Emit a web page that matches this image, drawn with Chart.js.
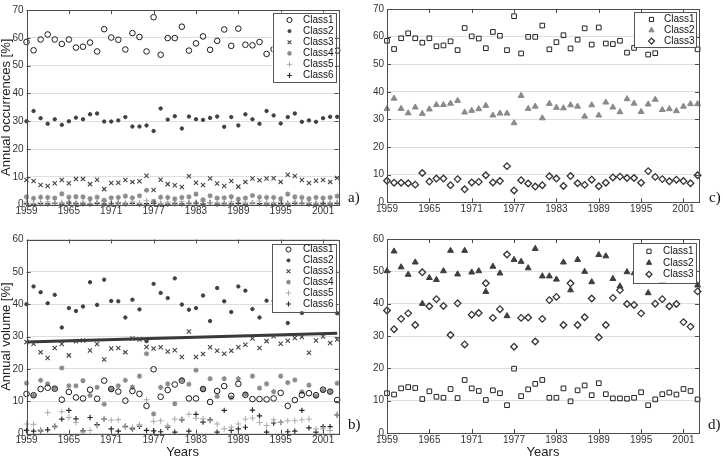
<!DOCTYPE html>
<html><head><meta charset="utf-8">
<script src="https://cdn.jsdelivr.net/npm/chart.js@4/dist/chart.umd.min.js"></script>
<style>
html,body{margin:0;padding:0;background:#fff;width:723px;height:462px;overflow:hidden;position:relative;}
canvas{position:absolute;}
.lab{position:absolute;font-family:"Liberation Serif","DejaVu Serif",serif;font-size:15px;line-height:15px;color:#111;}
</style></head><body>
<canvas id="ca" width="360" height="230" style="left:0;top:0"></canvas>
<canvas id="cc" width="362" height="230" style="left:361px;top:0"></canvas>
<canvas id="cb" width="360" height="232" style="left:0;top:230px"></canvas>
<canvas id="cd" width="362" height="232" style="left:361px;top:230px"></canvas>
<div class="lab" style="left:348px;top:190px">a)</div>
<div class="lab" style="left:709px;top:190px">c)</div>
<div class="lab" style="left:348px;top:417px">b)</div>
<div class="lab" style="left:708px;top:417px">d)</div>
<script>
// ---------- DATA ----------
const years = [1959,1960,1961,1962,1963,1964,1965,1966,1967,1968,1969,1970,1971,1972,1973,1974,1975,1976,1977,1978,1979,1980,1981,1982,1983,1984,1985,1986,1987,1988,1989,1990,1991,1992,1993,1994,1995,1996,1997,1998,1999,2000,2001,2002,2003];
const yearTicks = [1959,1965,1971,1977,1983,1989,1995,2001];
const names6 = ['Class1','Class2','Class3','Class4','Class5','Class6'];
const names3 = ['Class1','Class2','Class3'];

// a) annual occurrences, six classes
const occClass1 = [58.5,55.5,59.4,61.2,59.4,57.8,59.4,56.5,56.8,58.3,55.1,63.1,60.1,59.3,55.8,61.7,60.3,55.1,67.4,53.9,59.9,59.9,64.0,55.4,58.0,60.5,55.7,58.9,63.0,57.1,63.3,57.5,57.3,58.5,54.2,55.9,60.1,53.5,54.0,58.1,58.6,58.7,57.6,57.5,55.4];
const occClass2 = [30.0,33.7,31.1,29.1,30.7,28.7,30.0,31.3,30.7,32.5,32.8,29.9,29.9,30.3,31.5,28.1,28.1,28.5,26.5,34.6,30.6,31.8,27.4,31.7,30.7,30.5,31.2,31.7,28.0,31.5,28.5,32.5,30.7,29.1,33.7,32.1,29.2,31.5,32.8,29.8,30.3,29.8,31.1,31.6,31.6];
const occClass3 = [8.9,8.5,7.1,6.7,7.7,8.9,7.7,9.2,9.2,7.4,9.0,5.6,7.8,7.9,8.9,8.2,8.4,10.4,5.3,9.0,7.4,7.0,6.4,10.2,7.9,7.1,9.4,7.6,6.7,8.5,6.5,8.2,9.4,8.8,9.4,9.5,8.2,10.8,10.3,8.9,7.8,8.6,8.9,8.2,9.6];
const occClass4 = [2.8,2.3,2.7,2.6,2.4,3.9,2.7,2.9,2.8,2.2,2.7,1.6,2.5,2.6,3.1,2.5,3.2,5.2,1.2,2.7,2.6,2.1,2.6,2.8,3.8,1.8,3.2,2.4,2.5,2.9,2.0,2.4,3.3,2.7,2.6,2.6,2.2,3.8,2.8,2.6,2.2,2.6,2.4,2.6,3.1];
const occClass5 = [0.9,0.5,0.7,1.0,0.6,0.8,1.1,0.7,0.9,0.5,0.8,1.2,0.6,0.9,0.7,1.0,0.6,1.4,0.8,0.5,0.9,0.7,1.1,0.6,0.9,1.2,0.7,0.8,0.6,1.0,0.8,0.9,0.6,1.3,0.7,0.8,0.9,0.6,1.0,0.7,0.8,0.6,0.9,0.7,0.8];
const occClass6 = [0.3,0.2,0.4,0.3,0.5,0.2,0.6,0.4,0.3,0.2,0.5,0.3,0.4,0.6,0.3,0.5,0.2,0.4,0.5,0.3,0.2,0.4,0.3,0.5,0.6,0.3,0.7,0.2,0.4,0.3,0.5,0.2,0.6,0.4,0.3,0.2,0.4,0.3,0.5,0.6,0.2,0.3,0.4,0.3,0.5];

// c) annual occurrences, three groups (Class1 shared with a)
const occGroup2 = [33.9,37.6,33.9,32.3,34.4,32.1,33.7,35.3,35.3,35.8,36.8,32.6,33.2,33.8,35.0,31.5,32.2,32.2,28.7,38.6,33.9,34.7,30.5,35.7,34.3,34.1,35.2,34.7,31.1,35.2,31.5,36.2,34.4,32.7,37.4,35.8,32.8,35.5,37.2,33.5,33.8,33.1,34.7,35.6,35.6];
const occGroup3 = [7.8,7.1,7.1,6.9,6.4,10.6,7.5,8.6,8.6,6.2,8.4,4.7,7.2,7.4,9.8,7.2,7.7,13.1,4.3,8.0,6.8,5.7,6.2,9.4,8.6,5.9,9.5,6.9,6.3,8.2,5.8,7.1,9.0,9.3,8.8,8.8,7.1,11.3,9.2,8.4,7.6,8.2,7.7,6.9,9.8];

// b) annual volume, six classes
const volClass1 = [12.3,11.9,13.8,14.2,13.9,10.5,12.9,11.2,10.9,13.6,10.8,16.4,13.8,13.0,10.2,13.2,12.3,8.6,19.9,11.4,13.5,15.2,16.4,10.9,10.9,13.8,9.8,13.2,14.7,11.7,15.4,12.0,10.7,10.7,10.6,10.9,12.6,8.6,10.4,12.0,12.5,11.9,13.6,13.0,10.4];
const volClass2 = [40.0,45.5,43.7,40.3,42.9,32.8,38.8,37.9,39.3,46.8,39.8,47.6,41.0,40.9,35.9,41.4,38.4,28.6,46.3,43.5,41.9,48.0,39.9,38.3,38.8,42.7,34.8,45.0,40.9,37.6,45.5,44.2,38.5,35.9,41.1,41.0,40.0,34.2,44.0,37.3,42.0,40.0,43.0,41.0,37.2];
const volClass3 = [28.3,27.8,25.2,23.4,26.5,27.7,24.2,28.6,28.8,25.7,27.7,22.9,26.3,26.5,25.2,29.4,29.1,26.8,26.3,26.7,25.4,25.8,23.7,31.6,23.7,24.6,26.7,25.6,24.7,25.6,26.7,27.5,29.4,26.5,28.6,30.1,27.8,28.7,29.6,29.9,25.0,28.8,30.0,28.0,29.1];
const volClass4 = [15.6,11.8,16.5,15.4,14.0,20.3,14.8,14.8,16.4,11.8,14.3,9.1,13.7,14.8,16.5,14.4,17.8,24.7,6.1,14.3,15.4,9.3,16.6,15.3,19.6,13.8,17.0,11.5,17.0,11.1,17.0,12.2,17.8,14.1,15.4,13.0,17.8,15.8,16.6,12.9,15.0,11.6,13.4,13.0,15.6];
const volClass5 = [3.0,2.9,1.2,6.5,2.0,6.8,5.0,3.5,0.5,1.0,2.5,4.5,4.2,4.3,2.0,2.0,2.8,10.5,3.8,4.0,2.5,4.5,4.5,6.0,4.8,4.6,4.0,3.0,1.5,2.0,3.0,4.5,4.8,3.5,2.5,4.3,3.5,4.0,4.0,4.3,4.5,1.5,1.5,1.0,6.0];
const volClass6 = [1.0,0.8,0.9,1.2,2.3,4.5,7.2,4.6,0.9,5.0,2.8,4.5,1.5,0.8,2.3,1.5,2.3,1.0,0.9,0.6,2.0,0.5,4.3,0.8,6.0,3.6,4.3,0.5,7.2,1.0,1.5,2.0,7.3,5.5,0.5,3.3,3.5,0.6,0.8,7.2,1.8,0.5,2.2,2.2,5.8];
const trendYears = [1959,2003];
const trendValues = [28.3,31.0];

// d) annual volume, three groups (Class1 shared with b)
const volGroup2 = [50.1,56.2,51.3,49.0,52.8,40.0,48.0,47.4,50.1,56.4,49.1,56.4,49.7,50.1,43.7,51.5,49.4,36.2,53.6,53.0,51.0,57.0,48.5,48.5,47.5,52.8,44.2,53.6,49.9,46.7,55.1,54.7,47.7,45.4,49.8,49.5,50.4,43.3,49.6,47.0,48.3,48.2,52.1,54.1,45.7];
const volGroup3 = [37.9,32.1,35.3,37.0,33.4,49.7,39.2,41.4,39.3,30.3,40.1,27.4,36.6,37.1,46.3,35.6,38.3,55.2,26.7,35.6,35.7,28.3,35.3,41.1,42.1,33.4,46.3,33.4,35.8,41.6,29.6,33.4,41.8,44.2,39.9,39.6,37.0,48.1,40.0,41.4,39.2,39.9,34.3,32.9,43.8];

// ---------- STYLES ----------
const sixStyles = [
  {pointStyle:'circle',  pointRadius:2.8, borderColor:'#1a1a1a', backgroundColor:'rgba(0,0,0,0)', borderWidth:1},
  {pointStyle:'circle',  pointRadius:1.7, borderColor:'#404040', backgroundColor:'#404040', borderWidth:1},
  {pointStyle:'crossRot',pointRadius:3,   borderColor:'#444444', backgroundColor:'#444444', borderWidth:1.1},
  {pointStyle:'star',    pointRadius:2.6, borderColor:'#8c8c8c', backgroundColor:'#8c8c8c', borderWidth:1.3},
  {pointStyle:'cross',   pointRadius:3,   borderColor:'#ababab', backgroundColor:'#ababab', borderWidth:1},
  {pointStyle:'cross',   pointRadius:2.7, borderColor:'#2a2a2a', backgroundColor:'#2a2a2a', borderWidth:1.2}
];
function threeStyles(triColor){
  return [
    {pointStyle:'rect',    pointRadius:3.3, borderColor:'#222222', backgroundColor:'rgba(0,0,0,0)', borderWidth:1},
    {pointStyle:'triangle',pointRadius:3.4, borderColor:triColor,  backgroundColor:triColor, borderWidth:1},
    {pointStyle:'rectRot', pointRadius:3.3, borderColor:'#333333', backgroundColor:'rgba(0,0,0,0)', borderWidth:1.3}
  ];
}

function pts(vals){ return years.map((yr,i)=>({x:yr,y:vals[i]})); }
function makeSets(names, seriesList, styles){
  return names.map((n,i)=>Object.assign({label:n, data:pts(seriesList[i]), clip:false, pointHoverRadius:0}, styles[i]));
}

// ---------- PLUGINS ----------
const framePlugin = {
  id:'frame',
  afterDatasetsDraw(chart){
    const {ctx, chartArea:a, scales} = chart;
    ctx.save();
    ctx.strokeStyle = '#4d4d4d'; ctx.lineWidth = 1;
    ctx.strokeRect(Math.round(a.left)+0.5, Math.round(a.top)+0.5, Math.round(a.right-a.left), Math.round(a.bottom-a.top));
    ctx.beginPath();
    scales.x.ticks.forEach(t=>{
      const px = Math.round(scales.x.getPixelForValue(t.value))+0.5;
      ctx.moveTo(px, a.bottom); ctx.lineTo(px, a.bottom-4);
      ctx.moveTo(px, a.top); ctx.lineTo(px, a.top+4);
    });
    scales.y.ticks.forEach(t=>{
      const py = Math.round(scales.y.getPixelForValue(t.value))+0.5;
      ctx.moveTo(a.left, py); ctx.lineTo(a.left+4, py);
      ctx.moveTo(a.right, py); ctx.lineTo(a.right-4, py);
    });
    ctx.stroke();
    ctx.restore();
  }
};
const legendPlugin = {
  id:'boxLegend',
  afterDraw(chart, args, L){
    if (!L || !L.w) return;
    const ctx = chart.ctx;
    ctx.save();
    ctx.fillStyle = '#fff';
    ctx.fillRect(L.x, L.y, L.w, L.h);
    ctx.strokeStyle = '#555'; ctx.lineWidth = 1;
    ctx.strokeRect(Math.round(L.x)+0.5, Math.round(L.y)+0.5, Math.round(L.w), Math.round(L.h));
    let row = 0;
    chart.data.datasets.forEach(ds=>{
      if (ds.noLegend) return;
      const y = L.y0 + row*L.dy; row++;
      ctx.fillStyle = ds.backgroundColor; ctx.strokeStyle = ds.borderColor; ctx.lineWidth = ds.borderWidth;
      Chart.helpers.drawPoint(ctx, {pointStyle:ds.pointStyle, radius:ds.pointRadius*0.9, borderWidth:ds.borderWidth, rotation:0}, L.mx, y);
      ctx.fillStyle = '#111';
      ctx.font = '10px "Liberation Sans", Arial, sans-serif';
      ctx.textBaseline = 'middle'; ctx.textAlign = 'left';
      ctx.fillText(ds.label, L.tx, y);
    });
    ctx.restore();
  }
};

const tickFont = {family:'"Liberation Sans", Arial, sans-serif', size:10};
function makeChart(id, datasets, cfg){
  return new Chart(document.getElementById(id), {
    type:'scatter',
    data:{datasets},
    plugins:[framePlugin, legendPlugin],
    options:{
      responsive:false, animation:false, events:[],
      layout:{padding:{left:0, top:cfg.top, right:cfg.right, bottom:cfg.bottom}},
      plugins:{legend:{display:false}, tooltip:{enabled:false}, boxLegend:cfg.legend},
      scales:{
        x:{type:'linear', min:1959, max:2003.2,
           grid:{display:false, drawTicks:false}, border:{display:false},
           afterBuildTicks:s=>{ s.ticks = yearTicks.map(v=>({value:v})); },
           afterFit:s=>{ s.height = cfg.xh; },
           ticks:{autoSkip:false, maxRotation:0, padding:1, color:'#333', font:tickFont, callback:v=>String(v)},
           title:{display:!!cfg.xTitle, text:cfg.xTitle||'', color:'#222', padding:0,
                  font:{family:'"Liberation Sans", Arial, sans-serif', size:13, lineHeight:1}}},
        y:{type:'linear', min:0, max:cfg.ymax,
           grid:{color:'#dedede', drawTicks:false}, border:{display:false},
           afterFit:s=>{ s.width = cfg.yw; },
           ticks:{stepSize:10, padding:3, color:'#333', font:tickFont},
           title:{display:!!cfg.yTitle, text:cfg.yTitle||'', color:'#222', padding:0,
                  font:{family:'"Liberation Sans", Arial, sans-serif', size:13, lineHeight:1}}}
      }
    }
  });
}

// a)
makeChart('ca', makeSets(names6,[occClass1,occClass2,occClass3,occClass4,occClass5,occClass6], sixStyles),
  {top:10, right:21.4, bottom:0, xh:25.3, yw:26.5, ymax:70, yTitle:'Annual occurrences [%]',
   legend:{x:272.5, y:12.5, w:62.5, h:69, y0:20, dy:11.1, mx:289.5, tx:303}});
// c)
makeChart('cc', makeSets(names3,[occClass1,occGroup2,occGroup3], threeStyles('#8a8a8a')),
  {top:9, right:24, bottom:0, xh:27.7, yw:26, ymax:70,
   legend:{x:273, y:12, w:62, h:35, y0:19.5, dy:10.8, mx:290.5, tx:303}});
// b)
const bSets = makeSets(names6,[volClass1,volClass2,volClass3,volClass4,volClass5,volClass6], sixStyles);
bSets.push({type:'line', label:'trend', noLegend:true, data:trendYears.map((yr,i)=>({x:yr,y:trendValues[i]})),
  borderColor:'#3a3a3a', borderWidth:3, pointRadius:0, clip:false});
makeChart('cb', bSets,
  {top:9.5, right:21.4, bottom:3, xh:25.3, yw:26.5, ymax:60, yTitle:'Annual volume [%]', xTitle:'Years',
   legend:{x:272.3, y:13.7, w:63.5, h:67.5, y0:19.5, dy:10.9, mx:288.5, tx:303}});
// d)
makeChart('cd', makeSets(names3,[volClass1,volGroup2,volGroup3], threeStyles('#3e3e3e')),
  {top:8, right:24, bottom:3, xh:26, yw:26, ymax:60, xTitle:'Years',
   legend:{x:272.3, y:13, w:62.7, h:39.7, y0:21.3, dy:11.5, mx:288, tx:302}});
</script>
</body></html>
